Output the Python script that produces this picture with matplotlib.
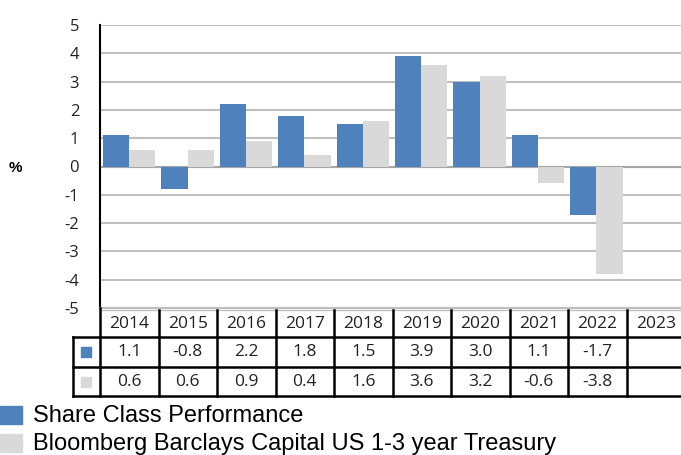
import matplotlib
matplotlib.use("Agg")
import matplotlib.pyplot as plt
import numpy as np
from matplotlib.lines import Line2D
from matplotlib.patches import Rectangle

years = ["2014", "2015", "2016", "2017", "2018", "2019", "2020", "2021", "2022", "2023"]
share_class = [1.1, -0.8, 2.2, 1.8, 1.5, 3.9, 3.0, 1.1, -1.7, None]
benchmark = [0.6, 0.6, 0.9, 0.4, 1.6, 3.6, 3.2, -0.6, -3.8, None]
series_names = ["Share Class Performance", "Bloomberg Barclays Capital US 1-3 year Treasury"]
blue = "#4F81BD"
gray = "#D9D9D9"

W, H = 681, 455
plt.rcParams['font.family'] = ['Liberation Sans', 'DejaVu Sans']
plt.rcParams['axes.unicode_minus'] = False
fig = plt.figure(figsize=(W / 100, H / 100), dpi=100)
num_font = ['Open Sans', 'DejaVu Sans']

def fx(px):
    return px / W

def fy(py):
    return 1 - py / H

ax_left, ax_right, ax_top, ax_bottom = 100, 684, 25, 308
ax = fig.add_axes([fx(ax_left), fy(ax_bottom), fx(ax_right - ax_left), fy(ax_top) - fy(ax_bottom)])
n = len(years)
x = np.arange(n)
bw = 0.45
sc = [v if v is not None else 0 for v in share_class]
bm = [v if v is not None else 0 for v in benchmark]
ax.bar(x - bw / 2, sc, width=bw, color=blue, zorder=3)
ax.bar(x + bw / 2, bm, width=bw, color=gray, zorder=3)
ax.set_xlim(-0.5, n - 0.5)
ax.set_ylim(-5, 5)
ax.set_yticks(range(-5, 6))
ax.yaxis.grid(True, color="#BFBFBF", linewidth=1.5, zorder=0)
ax.axhline(0, color="#A6A6A6", linewidth=1.5, zorder=2)
ax.set_xticks([])
for s in ["top", "right"]:
    ax.spines[s].set_visible(False)
ax.spines["bottom"].set_color("#BFBFBF")
ax.spines["bottom"].set_linewidth(1.5)
ax.spines["left"].set_color("black")
ax.spines["left"].set_linewidth(1.5)
ax.tick_params(axis="y", length=0, labelsize=12, pad=15, colors="#222222")
for lbl in ax.get_yticklabels():
    lbl.set_horizontalalignment("right")
    lbl.set_family(num_font)

fig.text(fx(15), fy(168), "%", fontsize=11, fontweight="bold", ha="center", va="center")

# table
col_w = 58.5
rows_y = [310, 337, 367, 396]
lw_thick = 1.8
tfs = 12.5
for i, y in enumerate(years):
    cx = ax_left + col_w * (i + 0.5)
    fig.text(fx(cx), fy((rows_y[0] + rows_y[1]) / 2), y, fontsize=tfs, ha="center", va="center",
             family=num_font, color="#222222")
    fig.text(fx(cx), fy((rows_y[1] + rows_y[2]) / 2),
             "" if share_class[i] is None else f"{share_class[i]:.1f}", fontsize=tfs, ha="center",
             va="center", family=num_font, color="#222222")
    fig.text(fx(cx), fy((rows_y[2] + rows_y[3]) / 2),
             "" if benchmark[i] is None else f"{benchmark[i]:.1f}", fontsize=tfs, ha="center",
             va="center", family=num_font, color="#222222")

def hline(x0, x1, y, c="black", lw=lw_thick):
    fig.add_artist(Line2D([fx(x0), fx(x1)], [fy(y), fy(y)], color=c, linewidth=lw))

def vline(xp, y0, y1, c="black", lw=lw_thick):
    fig.add_artist(Line2D([fx(xp), fx(xp)], [fy(y0), fy(y1)], color=c, linewidth=lw))

hline(ax_left, 690, rows_y[0], c="#BFBFBF", lw=1.0)
hline(73, 690, rows_y[1])
hline(73, 690, rows_y[2])
hline(73, 690, rows_y[3])
vline(73, rows_y[1], rows_y[3])
vline(ax_left, ax_bottom, rows_y[3])
for i in range(1, n):
    xp = ax_left + col_w * i
    vline(xp, rows_y[0], rows_y[3])

# swatches in table
for k, c in enumerate([blue, gray]):
    cy = (rows_y[k + 1] + rows_y[k + 2]) / 2
    fig.add_artist(Rectangle((fx(81), fy(cy + 5)), fx(10), fy(cy - 5) - fy(cy + 5), color=c))

# legend
for k, (name, c) in enumerate(zip(series_names, [blue, gray])):
    cy = 415 + 28 * k
    fig.add_artist(Rectangle((fx(0), fy(cy + 9)), fx(22), fy(cy - 9) - fy(cy + 9), color=c))
    fig.text(fx(33), fy(cy + 1), name, fontsize=17, ha="left", va="center")

fig.savefig("out.png", dpi=100)
